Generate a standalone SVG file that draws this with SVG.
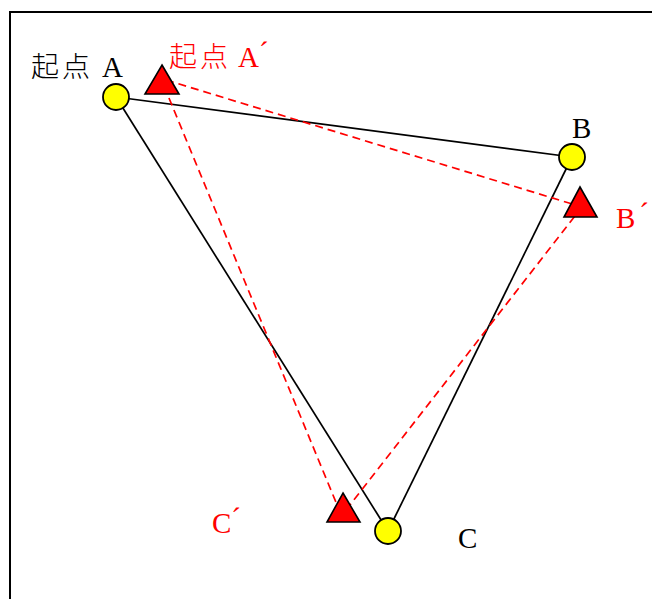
<svg xmlns="http://www.w3.org/2000/svg" width="652" height="599" viewBox="0 0 652 599">
<style>
.frame{fill:#fff;stroke:#000;stroke-width:2}
.solid{stroke:#000;stroke-width:1.7;fill:none}
.dash{stroke:#f00;stroke-width:1.7;stroke-dasharray:8,5;fill:none}
.pt{fill:#ff0;stroke:#000;stroke-width:1.8}
.tri{fill:#f00;stroke:#000;stroke-width:1.6}
.lbl{font-family:"Liberation Serif","Noto Sans CJK SC",serif;font-size:29px}
.cjk{font-family:"Noto Sans CJK SC",sans-serif;font-size:28px;font-weight:300;letter-spacing:3px}
.blk{fill:#000}
.red{fill:#f00}
</style>
<rect class="frame" x="10" y="12" width="660" height="600"/>
<g id="connectors">
<line class="solid" x1="116" y1="97" x2="572" y2="157"/>
<line class="solid" x1="116" y1="97" x2="388" y2="531"/>
<line class="solid" x1="572" y1="157" x2="388" y2="531"/>
<line class="dash" x1="166" y1="80" x2="582" y2="207"/>
<line class="dash" x1="164" y1="86" x2="340" y2="512"/>
<line class="dash" x1="346" y1="510" x2="582" y2="207"/>
</g>
<g id="A"><circle class="pt" cx="116" cy="97" r="13"/><text class="lbl blk" x="31" y="77"><tspan class="cjk">起点</tspan><tspan x="102">A</tspan></text></g>
<g id="B"><circle class="pt" cx="572" cy="157" r="13"/><text class="lbl blk" x="572" y="138">B</text></g>
<g id="C"><circle class="pt" cx="388" cy="531" r="13"/><text class="lbl blk" x="458" y="548">C</text></g>
<g id="A2"><polygon class="tri" points="162,65 179,94 145,94"/><text class="lbl red" x="169" y="67"><tspan class="cjk">起点</tspan><tspan x="238">A</tspan><tspan dy="-5">´</tspan></text></g>
<g id="B2"><polygon class="tri" points="580,187 597,217 564,217"/><text class="lbl red" x="616" y="228">B<tspan dx="4" dy="-5">´</tspan></text></g>
<g id="C2"><polygon class="tri" points="343,493 360,522 327,522"/><text class="lbl red" x="212" y="533">C<tspan dy="-5">´</tspan></text></g>
</svg>
